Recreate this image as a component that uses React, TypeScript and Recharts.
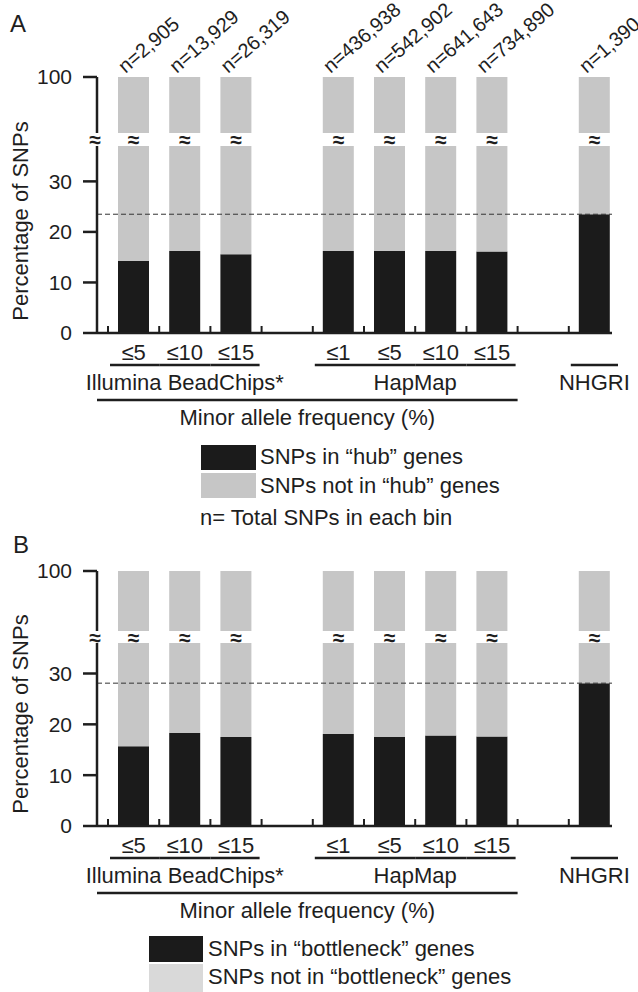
import React from "react";
import { BarChart, Bar, XAxis, YAxis, ReferenceLine } from "recharts";

// bins along the x axis (the two "gap" bins hold the space between the groups)
const binIds = ["ill-5", "ill-10", "ill-15", "gap-1", "hm-1", "hm-5", "hm-10", "hm-15", "gap-2", "nhgri"];
const binLabels = ["≤5", "≤10", "≤15", "", "≤1", "≤5", "≤10", "≤15", "", ""];
const binGroups = [
  "Illumina BeadChips*", "Illumina BeadChips*", "Illumina BeadChips*", "",
  "HapMap", "HapMap", "HapMap", "HapMap", "", "NHGRI",
];
const mafLastBin = 7; // bins 0..7 sit under the "Minor allele frequency" bracket
const mafLabel = "Minor allele frequency (%)";

// panel A: % of SNPs in "hub" genes, and total SNPs per bin
const snpTotals = [2905, 13929, 26319, null, 436938, 542902, 641643, 734890, null, 1390];
const hubPct = [14.3, 16.2, 15.6, null, 16.2, 16.2, 16.2, 16.15, null, 23.5];

// panel B: % of SNPs in "bottleneck" genes
const bottleneckPct = [15.7, 18.3, 17.5, null, 18.1, 17.5, 17.8, 17.6, null, 28.1];

const lowerTicks = [0, 10, 20, 30];
const upperTicks = [100];

const W = 638;
const PLOT_LEFT = 97;
const PLOT_RIGHT = 612;
const Y_AXIS_W = 60;
const PAD = { left: 11, right: -8 };
const BAR_W = 31;
const BLACK = "#1b1b1b";
const GRAY = "#c6c6c6";
const INK = "#1e1e1e";
const FONT = "Arial, 'Liberation Sans', Helvetica, sans-serif";

type Row = { id: string; inGenes: number | null; notInGenes: number | null; total: number | null };

const buildRows = (pct: (number | null)[], totals?: (number | null)[]): Row[] =>
  binIds.map((id, i) => ({
    id,
    inGenes: pct[i],
    notInGenes: pct[i] == null ? null : 100 - (pct[i] as number),
    total: totals ? totals[i] : null,
  }));

// x axis tick: small up-tick at the band edge, bin label, group brackets
const BinTick = (props: any) => {
  const { x, y, payload } = props;
  const i = binIds.indexOf(payload.value);
  const half = payload.offset || 25.6;
  const left = x - half;
  const right = x + half;
  const group = binGroups[i];
  const prevSame = i > 0 && binGroups[i - 1] === group;
  const nextSame = binGroups[i + 1] === group;
  let span = 0;
  if (group && !prevSame) {
    while (binGroups[i + span] === group) span++;
  }
  const mafStart = left - PAD.left;
  const mafEnd = left + (mafLastBin + 1) * 2 * half;
  return (
    <g>
      <line x1={left} x2={left} y1={y} y2={y - 7} stroke={INK} strokeWidth={2} />
      {binLabels[i] && (
        <text x={x} y={y + 19} textAnchor="middle" dominantBaseline="central" fontSize={22} fill={INK}>
          {binLabels[i]}
        </text>
      )}
      {group && (
        <line
          x1={prevSame ? left : left + 2}
          x2={nextSame ? right : right - 2}
          y1={y + 32}
          y2={y + 32}
          stroke={INK}
          strokeWidth={2.5}
        />
      )}
      {span > 0 && (
        <text x={left + span * half} y={y + 49} textAnchor="middle" dominantBaseline="central" fontSize={22} fill={INK}>
          {group}
        </text>
      )}
      {i === 0 && (
        <>
          <line x1={mafStart} x2={mafEnd} y1={y + 67} y2={y + 67} stroke={INK} strokeWidth={2.5} />
          <text x={(mafStart + mafEnd) / 2} y={y + 84} textAnchor="middle" dominantBaseline="central" fontSize={22} fill={INK}>
            {mafLabel}
          </text>
        </>
      )}
    </g>
  );
};

// "≈" under each upper bar segment
const makeBreakTick = (pct: (number | null)[], dy: number) => (props: any) => {
  const { x, y, payload } = props;
  const i = binIds.indexOf(payload.value);
  if (pct[i] == null) return <g />;
  return (
    <text x={x} y={y + dy} textAnchor="middle" dominantBaseline="central" fontSize={21} fontWeight="bold" fill={INK}>
      ≈
    </text>
  );
};

// rotated "n=" totals above each bar (drawn as ticks of a top axis)
const makeTotalTick = (totals: (number | null)[]) => (props: any) => {
  const { x, y, payload } = props;
  const v = totals[binIds.indexOf(payload.value)];
  if (v == null) return <g />;
  const ax = Number(x) - 8;
  const ay = Number(y) - 3;
  return (
    <text x={ax} y={ay} transform={`rotate(-41 ${ax} ${ay})`} fontSize={20} fill={INK}>
      {`n=${v.toLocaleString("en-US")}`}
    </text>
  );
};

type LegendRow = { color: string; y: number; h: number; text: string; cy: number };

type PanelProps = {
  top: number;
  letter: string;
  letterX: number;
  letterY: number;
  pct: (number | null)[];
  totals?: (number | null)[];
  lowerMax: number;
  upperTop: number;
  upperBottom: number;
  lowerTop: number;
  lowerBottom: number;
  swatchX: number;
  swatchW: number;
  textX: number;
  legend: LegendRow[];
  note?: { text: string; x: number; cy: number };
};

const Panel = (p: PanelProps) => {
  const rows = buildRows(p.pct, p.totals);
  const refValue = p.pct[p.pct.length - 1] as number;
  const gap = p.lowerTop - p.upperBottom;
  const axisStyle = { stroke: INK, strokeWidth: 2.5 };
  const margin = (t: number, b: number) => ({ top: t, bottom: b, left: PLOT_LEFT - Y_AXIS_W, right: W - PLOT_RIGHT });
  const upperH = p.upperBottom + 24;
  const lowerH = p.lowerBottom + 110;

  return (
    <div style={{ position: "absolute", left: 0, top: p.top, width: W, height: 500 }}>
      {/* lower part of the broken axis */}
      <div style={{ position: "absolute", left: 0, top: 0 }}>
        <BarChart width={W} height={lowerH} data={rows} margin={margin(p.lowerTop, 0)}>
          <XAxis
            dataKey="id"
            type="category"
            height={110}
            interval={0}
            padding={PAD}
            axisLine={axisStyle}
            tickLine={false}
            tickSize={0}
            tickMargin={0}
            tick={BinTick}
          />
          <YAxis
            type="number"
            width={Y_AXIS_W}
            domain={[0, p.lowerMax]}
            allowDataOverflow
            ticks={lowerTicks}
            interval={0}
            axisLine={axisStyle}
            tickLine={axisStyle}
            tickSize={14}
            tickMargin={11}
            tick={{ fontSize: 21, fill: INK }}
          />
          <Bar dataKey="inGenes" stackId="s" fill={BLACK} barSize={BAR_W} isAnimationActive={false} />
          <Bar dataKey="notInGenes" stackId="s" fill={GRAY} barSize={BAR_W} isAnimationActive={false} />
          <ReferenceLine y={refValue} stroke="#333" strokeWidth={1} strokeDasharray="5 3" />
        </BarChart>
      </div>

      {/* upper part of the broken axis */}
      <div style={{ position: "absolute", left: 0, top: 0 }}>
        <BarChart width={W} height={upperH} data={rows} margin={margin(p.upperTop - 1, 0)}>
          <XAxis
            dataKey="id"
            type="category"
            height={24}
            interval={0}
            padding={PAD}
            axisLine={false}
            tickLine={false}
            tickSize={0}
            tickMargin={0}
            tick={makeBreakTick(p.pct, gap / 2)}
          />
          <XAxis
            xAxisId="totals"
            orientation="top"
            dataKey="id"
            type="category"
            height={1}
            interval={0}
            padding={PAD}
            axisLine={false}
            tickLine={false}
            tickSize={0}
            tickMargin={0}
            tick={p.totals ? makeTotalTick(p.totals) : false}
          />
          <YAxis
            type="number"
            width={Y_AXIS_W}
            domain={[90, 100]}
            allowDataOverflow
            ticks={upperTicks}
            interval={0}
            axisLine={axisStyle}
            tickLine={axisStyle}
            tickSize={14}
            tickMargin={11}
            tick={{ fontSize: 21, fill: INK }}
          />
          <Bar dataKey="inGenes" stackId="s" fill={BLACK} barSize={BAR_W} isAnimationActive={false} />
          <Bar dataKey="notInGenes" stackId="s" fill={GRAY} barSize={BAR_W} isAnimationActive={false} />
        </BarChart>
      </div>

      {/* panel letter, axis title and axis break */}
      <svg width={W} height={500} style={{ position: "absolute", left: 0, top: 0, pointerEvents: "none" }}>
        <text x={p.letterX} y={p.letterY} fontSize={24} fill={INK}>
          {p.letter}
        </text>
        <text x={28} y={221} transform="rotate(-90 28 221)" textAnchor="middle" fontSize={22} fill={INK}>
          Percentage of SNPs
        </text>
        <text
          x={PLOT_LEFT - 2}
          y={p.upperBottom + gap / 2}
          textAnchor="middle"
          dominantBaseline="central"
          fontSize={21}
          fontWeight="bold"
          fill={INK}
        >
          ≈
        </text>
      </svg>

      {/* legend */}
      {p.legend.map((r) => (
        <React.Fragment key={r.text}>
          <div style={{ position: "absolute", left: p.swatchX, top: r.y, width: p.swatchW, height: r.h, background: r.color }} />
          <div
            style={{
              position: "absolute",
              left: p.textX,
              top: r.cy - 13,
              fontSize: 22,
              lineHeight: "26px",
              whiteSpace: "nowrap",
              color: INK,
            }}
          >
            {r.text}
          </div>
        </React.Fragment>
      ))}
      {p.note && (
        <div
          style={{
            position: "absolute",
            left: p.note.x,
            top: p.note.cy - 13,
            fontSize: 22,
            lineHeight: "26px",
            whiteSpace: "nowrap",
            color: INK,
          }}
        >
          {p.note.text}
        </div>
      )}
    </div>
  );
};

export default function App() {
  return (
    <div
      style={{
        position: "absolute",
        left: 0,
        top: 0,
        width: W,
        height: 992,
        overflow: "hidden",
        background: "#fff",
        fontFamily: FONT,
      }}
    >
      <Panel
        top={0}
        letter="A"
        letterX={10}
        letterY={32}
        pct={hubPct}
        totals={snpTotals}
        lowerMax={37}
        upperTop={77}
        upperBottom={133}
        lowerTop={146}
        lowerBottom={333}
        swatchX={201}
        swatchW={55}
        textX={260}
        legend={[
          { color: BLACK, y: 445, h: 25, text: "SNPs in “hub” genes", cy: 457 },
          { color: GRAY, y: 473, h: 25, text: "SNPs not in “hub” genes", cy: 486 },
        ]}
        note={{ text: "n= Total SNPs in each bin", x: 200, cy: 518 }}
      />
      <Panel
        top={493}
        letter="B"
        letterX={13}
        letterY={60}
        pct={bottleneckPct}
        lowerMax={36}
        upperTop={78}
        upperBottom={138}
        lowerTop={150}
        lowerBottom={333}
        swatchX={149}
        swatchW={54}
        textX={208}
        legend={[
          { color: BLACK, y: 443, h: 26, text: "SNPs in “bottleneck” genes", cy: 456 },
          { color: "#d9d9d9", y: 471, h: 28, text: "SNPs not in “bottleneck” genes", cy: 484 },
        ]}
      />
    </div>
  );
}
